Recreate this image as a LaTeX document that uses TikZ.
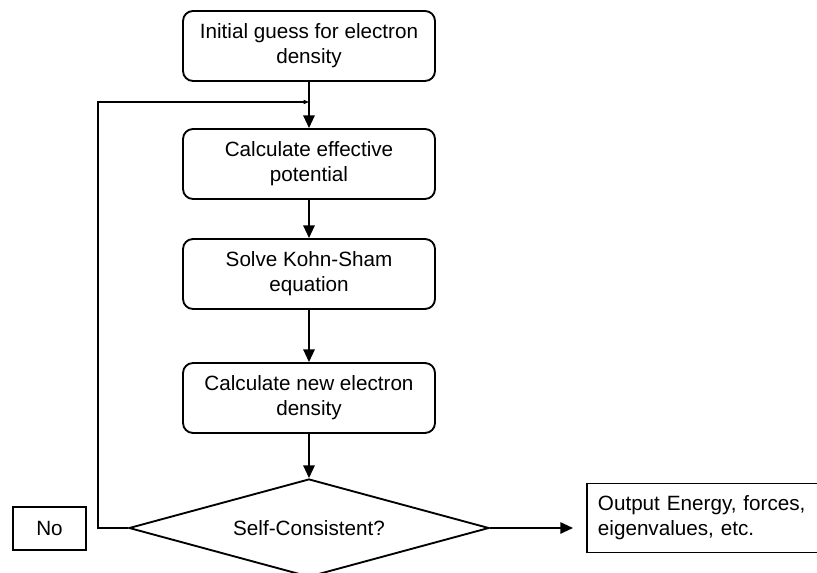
\documentclass[tikz,border=0pt]{standalone}
\usepackage{fontspec}
\setmainfont{Liberation Sans}
\usetikzlibrary{shapes.geometric,arrows.meta}
\begin{document}
\begin{tikzpicture}[x=0.75pt,y=-0.75pt,
  font=\fontsize{15.5}{18.75}\selectfont,
  line width=1.4pt,
  proc/.style={draw,rounded corners=7.5pt,minimum width=189pt,minimum height=52.5pt,inner sep=0pt,align=center},
  dec/.style={draw,shape=diamond,aspect=3.67,minimum width=270pt,minimum height=73.5pt,inner sep=0pt},
  outbox/.style={draw,inner xsep=8.25pt,inner ysep=0pt,text width=165pt,minimum height=51.75pt,align=left},
  nobox/.style={draw,inner sep=0pt,minimum width=54.75pt,minimum height=32.25pt},
  arr/.style={-{Triangle[width=8.5pt,length=9.5pt]}},
  smallarr/.style={-{Triangle[width=3pt,length=4pt]}}
  ]
\clip (0,0) rectangle (817,573);
\node[proc] (b1) at (309,46) {Initial guess for electron\\density};
\node[proc] (b2) at (309,164) {Calculate effective\\potential};
\node[proc] (b3) at (309,274) {Solve Kohn-Sham\\equation};
\node[proc] (b4) at (309,398) {Calculate new electron\\density};
\node[dec] (d) at (309,528) {Self-Consistent?};
\node[outbox,anchor=west] (out) at (586,518) {Output Energy, forces,\\eigenvalues, etc.};
\node[nobox] (no) at (49.5,528.5) {No};
\coordinate (j) at (309,102);
\draw[arr] (b1) -- (b2);
\draw[arr] (b2) -- (b3);
\draw[arr] (b3) -- (b4);
\draw[arr] (b4) -- (d);
\draw[smallarr] (d.west) -- ++(-30,0) |- (j);
\draw[arr,shorten >=9.75pt] (d.east) -- (d.east -| out.west);
\end{tikzpicture}
\end{document}
